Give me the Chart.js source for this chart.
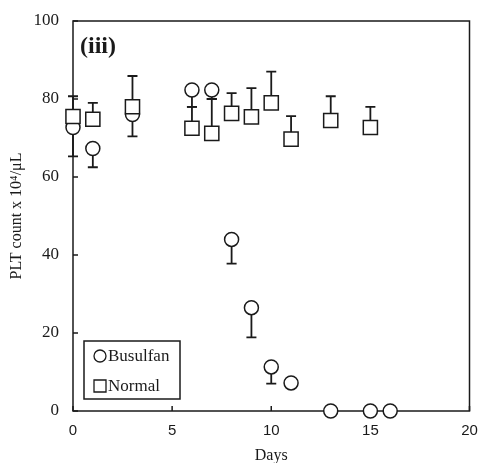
<!DOCTYPE html>
<html>
<head>
<meta charset="utf-8">
<script src="https://cdn.jsdelivr.net/npm/chart.js@4"></script>
<style>
  html, body { margin: 0; padding: 0; background: #fff; }
  #wrap { width: 481px; height: 463px; position: relative; }
</style>
</head>
<body>
<div id="wrap"><canvas id="c" width="481" height="463"></canvas></div>
<script>
// ---- data ----
const busulfanDays = [0, 1, 3, 6, 7, 8, 9, 10, 11, 13, 15, 16];
const busulfanPlt = [72.7, 67.3, 76, 82.3, 82.3, 44, 26.5, 11.3, 7.2, 0, 0, 0];
const busulfanSd = [7.4, 4.8, 5.6, 4.3, 2.3, 6.2, 7.6, 4.3, 0, 0, 0, 0];

const normalDays = [0, 1, 3, 6, 7, 8, 9, 10, 11, 13, 15];
const normalPlt = [75.5, 74.8, 78, 72.5, 71.2, 76.3, 75.4, 79, 69.7, 74.5, 72.7];
const normalSd = [5.2, 4.2, 7.9, 5.5, 8.8, 5.2, 7.4, 8, 5.9, 6.2, 5.3];

const xTicks = [0, 5, 10, 15, 20];
const yTicks = [0, 20, 40, 60, 80, 100];
const panelLabel = '(iii)';

const INK = '#1a1a1a';
const SERIF = '"Liberation Serif", "Times New Roman", serif';
const SANS = '"Liberation Sans", Arial, sans-serif';

const toPoints = (xs, ys) => xs.map((x, i) => ({ x, y: ys[i] }));

// error bars go under the markers (Busulfan down, Normal up)
const errorBars = {
  id: 'errorBars',
  beforeDatasetsDraw(chart) {
    const ctx = chart.ctx;
    const y = chart.scales.y;
    ctx.save();
    ctx.strokeStyle = INK;
    ctx.lineWidth = 1.8;
    chart.data.datasets.forEach((ds, di) => {
      const meta = chart.getDatasetMeta(di);
      meta.data.forEach((pt, i) => {
        const sd = ds.sd[i];
        if (!sd) return;
        const v = ds.data[i].y + ds.errDir * sd;
        const py = y.getPixelForValue(v);
        ctx.beginPath();
        ctx.moveTo(pt.x, pt.y);
        ctx.lineTo(pt.x, py);
        ctx.moveTo(pt.x - 5, py);
        ctx.lineTo(pt.x + 5, py);
        ctx.stroke();
      });
    });
    ctx.restore();
  },
};

// frame, inward ticks, panel label, legend box
const frame = {
  id: 'frame',
  beforeDatasetsDraw(chart) {
    const { ctx, chartArea: a, scales } = chart;
    ctx.save();
    ctx.strokeStyle = INK;
    ctx.lineWidth = 1.5;
    ctx.strokeRect(a.left, a.top, a.right - a.left, a.bottom - a.top);
    ctx.beginPath();
    yTicks.forEach((t) => {
      const py = scales.y.getPixelForValue(t);
      ctx.moveTo(a.left, py);
      ctx.lineTo(a.left + 5, py);
    });
    xTicks.forEach((t) => {
      const px = scales.x.getPixelForValue(t);
      ctx.moveTo(px, a.bottom);
      ctx.lineTo(px, a.bottom - 5);
    });
    ctx.stroke();
    ctx.restore();
  },
  afterDraw(chart) {
    const { ctx, chartArea: a } = chart;
    ctx.save();
    ctx.strokeStyle = INK;
    ctx.fillStyle = INK;
    ctx.font = 'bold 24px ' + SERIF;
    ctx.textBaseline = 'alphabetic';
    ctx.fillText(panelLabel, a.left + 7, a.top + 32);

    // legend
    const bx = a.left + 11, by = a.bottom - 70, bw = 96, bh = 58;
    ctx.fillStyle = '#fff';
    ctx.fillRect(bx, by, bw, bh);
    ctx.lineWidth = 1.5;
    ctx.strokeRect(bx, by, bw, bh);
    ctx.font = '17px ' + SERIF;
    ctx.textBaseline = 'middle';
    ctx.lineWidth = 1.3;
    chart.data.datasets.forEach((ds, di) => {
      const cy = by + 15 + di * 30;
      const cx = bx + 16;
      ctx.beginPath();
      if (ds.pointStyle === 'circle') ctx.arc(cx, cy, 6, 0, Math.PI * 2);
      else ctx.rect(cx - 6, cy - 6, 12, 12);
      ctx.stroke();
      ctx.fillStyle = INK;
      ctx.fillText(ds.label, cx + 8, cy + 1);
    });
    ctx.restore();
  },
};

new Chart(document.getElementById('c'), {
  type: 'scatter',
  data: {
    datasets: [
      {
        label: 'Busulfan',
        data: toPoints(busulfanDays, busulfanPlt),
        sd: busulfanSd,
        errDir: -1,
        pointStyle: 'circle',
        pointRadius: 7,
        pointBackgroundColor: '#fff',
        pointBorderColor: INK,
        pointBorderWidth: 1.5,
        clip: false,
        order: 1,
      },
      {
        label: 'Normal',
        data: toPoints(normalDays, normalPlt),
        sd: normalSd,
        errDir: 1,
        pointStyle: 'rect',
        pointRadius: 10,
        pointBackgroundColor: '#fff',
        pointBorderColor: INK,
        pointBorderWidth: 1.5,
        clip: false,
        order: 0,
      },
    ],
  },
  options: {
    responsive: false,
    animation: false,
    layout: { padding: { top: 21, right: 7, left: 0, bottom: 0 } },
    plugins: { legend: { display: false }, tooltip: { enabled: false } },
    scales: {
      x: {
        type: 'linear',
        min: 0,
        max: 20,
        afterBuildTicks: (s) => { s.ticks = xTicks.map((v) => ({ value: v })); },
        afterFit: (s) => { s.height = 52; s.paddingLeft = 0; s.paddingRight = 0; },
        grid: { display: false, drawTicks: false },
        border: { display: false },
        ticks: { color: INK, padding: 11, font: { family: SANS, size: 15 } },
        title: {
          display: true,
          text: 'Days',
          color: INK,
          font: { family: SERIF, size: 16, lineHeight: 0.85 },
          padding: { top: 0, bottom: 0 },
        },
      },
      y: {
        min: 0,
        max: 100,
        afterBuildTicks: (s) => { s.ticks = yTicks.map((v) => ({ value: v })); },
        afterFit: (s) => { s.width = 73; s.paddingTop = 0; s.paddingBottom = 0; },
        grid: { display: false, drawTicks: false },
        border: { display: false },
        ticks: { color: INK, padding: 14, font: { family: SERIF, size: 17 } },
        title: {
          display: true,
          text: 'PLT count x 10\u2074/\u03bcL',
          color: INK,
          font: { family: SERIF, size: 16, lineHeight: 1 },
          padding: { top: 9, bottom: 0 },
        },
      },
    },
  },
  plugins: [errorBars, frame],
});
</script>
</body>
</html>
